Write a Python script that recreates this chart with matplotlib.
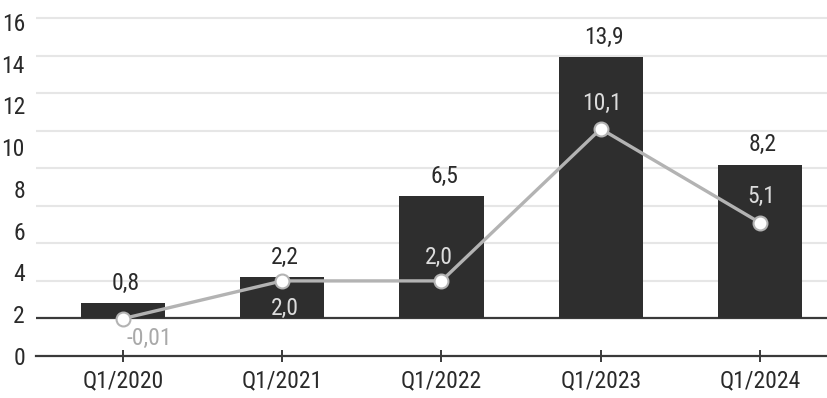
import matplotlib
matplotlib.use("Agg")
import matplotlib.pyplot as plt
import numpy as np

categories = ["Q1/2020", "Q1/2021", "Q1/2022", "Q1/2023", "Q1/2024"]
bar_values = [0.8, 2.2, 6.5, 13.9, 8.2]
line_values = [-0.01, 2.0, 2.0, 10.1, 5.1]
bar_labels = ["0,8", "2,2", "6,5", "13,9", "8,2"]
line_labels = ["-0,01", "2,0", "2,0", "10,1", "5,1"]
axis_labels = [0, 2, 4, 6, 8, 10, 12, 14, 16]

# offsets (points) of the line labels relative to their markers
line_label_offsets = [(19, -14), (2, -20), (-2, 17), (1, 18), (1, 19)]
line_label_colors = ["#a9a9a9", "#dcdcdc", "#dcdcdc", "#dcdcdc", "#dcdcdc"]

plt.rcParams["font.family"] = ["Roboto Condensed", "DejaVu Sans"]
plt.rcParams["font.stretch"] = "condensed"

W, H = 828, 398
fig = plt.figure(figsize=(W / 100, H / 100), dpi=100)
fig.patch.set_facecolor("white")

# axes spans pixels x 36..828, y 10..356
ax = fig.add_axes([36 / W, (H - 356) / H, 1 - 36 / W, (356 - 10) / H])
x = np.arange(len(categories))

ax.set_xlim(-0.546, 4.427)
ax.set_ylim(-2, 16.43)

# light horizontal grid
for g in np.arange(2, 17, 2):
    ax.axhline(g, color="#e6e6e6", lw=1.5, zorder=0)
# baseline of the bars
ax.axhline(0, color="#3a3a3a", lw=1.6, zorder=2)

ax.bar(x, bar_values, width=0.53, color="#2e2e2e", zorder=3)

ax.plot(x, line_values, color="#b3b3b3", lw=2.4, zorder=4,
        marker="o", markersize=10, markerfacecolor="white",
        markeredgecolor="#b3b3b3", markeredgewidth=1.5)

for xi, v, lab in zip(x, bar_values, bar_labels):
    ax.annotate(lab, (xi, v), xytext=(2, 6), textcoords="offset points",
                ha="center", va="bottom", fontsize=17, color="#2a2a2a", zorder=5)

for xi, v, lab, off, col in zip(x, line_values, line_labels,
                                line_label_offsets, line_label_colors):
    ax.annotate(lab, (xi, v), xytext=off, textcoords="offset points",
                ha="center", va="center", fontsize=17, color=col, zorder=5)

ax.set_yticks([])
for s in ["top", "right", "left"]:
    ax.spines[s].set_visible(False)
ax.spines["bottom"].set_color("#3a3a3a")
ax.spines["bottom"].set_linewidth(1.6)
ax.set_xticks(x)
ax.set_xticklabels(categories, fontsize=17, color="#2a2a2a")
ax.tick_params(axis="x", direction="inout", length=9, width=1.4,
               color="#3a3a3a", pad=5)

# value scale printed on the left
lab_ax = ax.twinx()
lab_ax.set_ylim(0.048, 16.57)
lab_ax.set_yticks(axis_labels)
lab_ax.set_yticklabels([str(v) for v in axis_labels], fontsize=17, color="#2a2a2a")
lab_ax.yaxis.set_ticks_position("left")
lab_ax.yaxis.set_label_position("left")
lab_ax.tick_params(axis="y", length=0, pad=8)
for s in lab_ax.spines.values():
    s.set_visible(False)

fig.savefig("out.png", dpi=100, facecolor="white")
